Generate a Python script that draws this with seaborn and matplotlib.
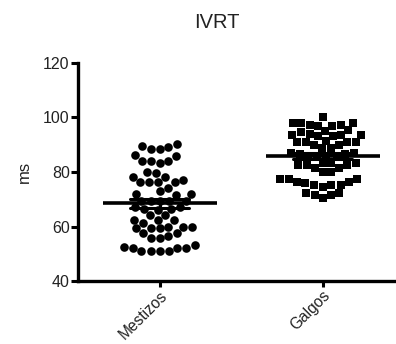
import numpy as np
import pandas as pd
import matplotlib
matplotlib.use("Agg")
import matplotlib.pyplot as plt
import seaborn as sns

groups = ["Mestizos", "Galgos"]

mestizos = [90.2, 89.6, 88.4, 88.4, 89.3, 86.0, 86.2, 84.2, 83.2, 84.2, 84.2,
            79.5, 78.3, 80.1, 78.3, 76.2, 76.2, 76.2, 76.2, 77.1, 74.0, 73.1,
            72.0, 71.5, 72.0,
            69.5, 69.5, 69.5, 69.5, 69.5, 67.0, 66.5, 66.0, 66.5, 67.0,
            64.2, 62.4, 62.4, 59.3, 57.5, 59.9, 59.9, 59.9, 61.2, 59.3, 62.4, 59.3, 64.2,
            55.7, 55.7, 56.6, 57.5,
            53.2, 52.0, 52.0, 51.0, 51.0, 51.0, 51.0, 52.0, 52.6]

galgos = [100.3, 97.9, 97.2, 96.9, 97.9, 96.9, 97.2, 98.1,
          93.6, 93.2, 94.5, 95.0, 93.5, 95.5, 94.0, 93.2, 93.6,
          91.1, 91.1, 91.5, 91.0, 91.1,
          89.9, 88.7, 88.7, 89.9,
          87.0, 87.0, 86.5, 86.0, 86.0, 85.5, 85.5, 86.5,
          83.2, 82.6, 81.4, 82.6, 80.1, 82.6, 80.1, 81.4, 83.2, 83.2,
          77.3, 75.8, 76.4, 75.2, 75.2, 75.2, 76.4, 77.3, 77.3, 74.6,
          72.2, 71.6, 70.4, 71.6, 72.2]

yticks = [40, 60, 80, 100, 120]

df = pd.DataFrame({
    "group": ["Mestizos"] * len(mestizos) + ["Galgos"] * len(galgos),
    "ms": mestizos + galgos,
})

sns.set_style("ticks")
plt.rcParams["font.family"] = ["Liberation Sans", "DejaVu Sans"]

fig = plt.figure(figsize=(3.96, 3.44), dpi=100)
ax = fig.add_axes([0.197, 0.183, 0.803, 0.634])

# dots: circles for mestizos, squares for galgos
sns.swarmplot(data=df[df.group == "Mestizos"], x="group", y="ms", order=groups,
              color="black", marker="o", size=6.2, linewidth=0, ax=ax, warn_thresh=1)
sns.swarmplot(data=df[df.group == "Galgos"], x="group", y="ms", order=groups,
              color="black", marker="s", size=6.0, linewidth=0, ax=ax, warn_thresh=1)

# mean line + SEM
sns.pointplot(data=df, x="group", y="ms", order=groups, errorbar="se",
              color="black", linestyle="none", marker="_", markersize=82,
              markeredgewidth=2.6, capsize=0.36,
              err_kws={"linewidth": 2.2}, ax=ax, zorder=5)

ax.set_xlim(-0.5, 1.45)
ax.set_ylim(40, 120)
ax.set_yticks(yticks)
ax.set_xlabel("")
ax.set_ylabel("ms", fontsize=12, labelpad=8, color="#222222")
ax.set_xticks([0, 1])
ax.set_xticklabels(groups, rotation=45, ha="right", rotation_mode="anchor", fontsize=11.2)
ax.tick_params(axis="y", labelsize=11.5, width=2.2, length=5, pad=1, color="black", labelcolor="#222222")
ax.tick_params(axis="x", width=2.2, length=4, pad=1, color="black", labelcolor="#222222")
for s in ["left", "bottom"]:
    ax.spines[s].set_linewidth(2.4)
    ax.spines[s].set_color("black")
sns.despine(ax=ax)

fig.text(0.548, 0.936, "IVRT", ha="center", va="center", fontsize=14.5, color="#222222")

fig.savefig("out.png", dpi=100)
